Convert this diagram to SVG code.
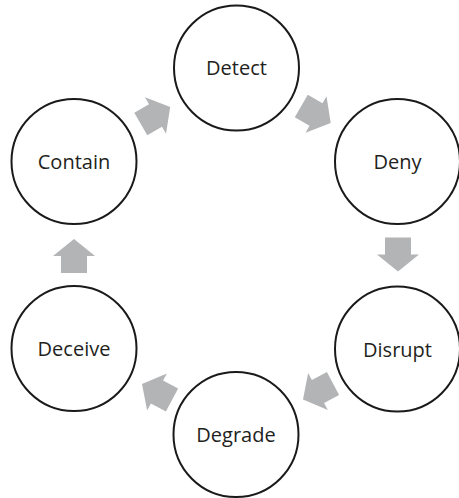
<svg xmlns="http://www.w3.org/2000/svg" xmlns:xlink="http://www.w3.org/1999/xlink" width="459" height="498" viewBox="0 0 459 498">
  <style>
    .node circle { fill: #ffffff; stroke: #1a1a1a; stroke-width: 2; }
    .node text { font-family: "Open Sans", "Liberation Sans", sans-serif; font-size: 20px; fill: #231f20; text-anchor: middle; }
    .arrow { fill: #b3b4b6; }
  </style>
  <defs>
    <!-- block arrow pointing along +x, centred on the origin -->
    <polygon id="blockArrow" points="-17,-13 0,-13 0,-21 17,0 0,21 0,13 -17,13"/>
  </defs>
  <rect width="459" height="498" fill="#ffffff"/>

  <g id="connectors" class="arrow">
    <use xlink:href="#blockArrow" href="#blockArrow" transform="translate(316 114.5) rotate(30)"/>
    <use xlink:href="#blockArrow" href="#blockArrow" transform="translate(398 254.5) rotate(90)"/>
    <use xlink:href="#blockArrow" href="#blockArrow" transform="translate(318 391.5) rotate(152)"/>
    <use xlink:href="#blockArrow" href="#blockArrow" transform="translate(157 392) rotate(208)"/>
    <use xlink:href="#blockArrow" href="#blockArrow" transform="translate(74 256) rotate(-90)"/>
    <use xlink:href="#blockArrow" href="#blockArrow" transform="translate(155.5 115.5) rotate(-30)"/>
  </g>

  <g id="detect" class="node">
    <circle cx="236.5" cy="68" r="62.5"/>
    <text x="236.5" y="75">Detect</text>
  </g>
  <g id="deny" class="node">
    <circle cx="397.5" cy="161.5" r="62.5"/>
    <text x="397.5" y="169">Deny</text>
  </g>
  <g id="disrupt" class="node">
    <circle cx="397.5" cy="349" r="62.5"/>
    <text x="397.5" y="356.5">Disrupt</text>
  </g>
  <g id="degrade" class="node">
    <circle cx="236" cy="434.5" r="62.5"/>
    <text x="236" y="442">Degrade</text>
  </g>
  <g id="deceive" class="node">
    <circle cx="74" cy="348.5" r="62.5"/>
    <text x="74" y="356">Deceive</text>
  </g>
  <g id="contain" class="node">
    <circle cx="74" cy="161.5" r="62.5"/>
    <text x="74" y="169">Contain</text>
  </g>
</svg>
